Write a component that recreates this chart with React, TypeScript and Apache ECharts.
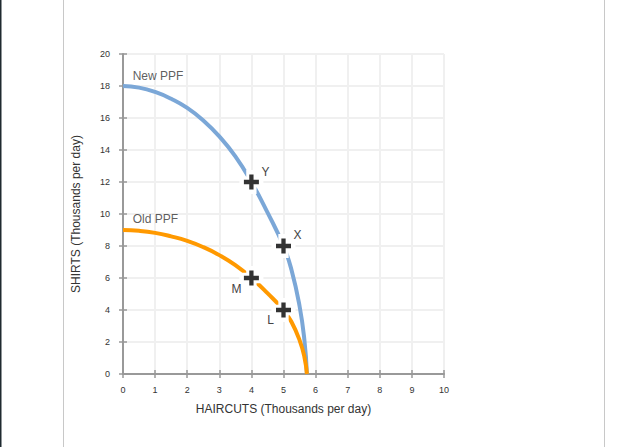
import React, { useEffect, useRef } from "react";
import * as echarts from "echarts";

const newX = [0, 0.5, 1, 1.5, 2, 2.5, 3, 3.5, 4, 4.5, 5, 5.25, 5.5, 5.65, 5.73];
const newY = [18, 17.9, 17.63, 17.2, 16.63, 15.85, 14.85, 13.6, 12, 10.1, 8, 6.5, 4.25, 2.15, 0];
const oldX = [0, 0.5, 1, 1.5, 2, 2.5, 3, 3.5, 4, 4.5, 5, 5.25, 5.5, 5.65, 5.73];
const oldY = [9, 8.95, 8.82, 8.6, 8.32, 7.93, 7.43, 6.8, 6, 5.05, 4, 3.25, 2.12, 1.08, 0];

const pointNames = ["Y", "X", "M", "L"];
const pointX = [4, 5, 4, 5];
const pointY = [12, 8, 6, 4];

const curveNames = ["New PPF", "Old PPF"];
const curveLabelX = [0.3, 0.3];
const curveLabelY = [18.6, 9.7];

const xTicks = [0, 1, 2, 3, 4, 5, 6, 7, 8, 9, 10];
const yTicks = [0, 2, 4, 6, 8, 10, 12, 14, 16, 18, 20];

const FONT = "Liberation Sans, Arial, sans-serif";
const PLUS = "path://M5,0H9V5H14V9H9V14H5V9H0V5H5Z";
const PLUS_HALO = "path://M4,0H10V4H14V10H10V14H4V10H0V4H4Z";

export default function App() {
  const ref = useRef<HTMLDivElement>(null);
  useEffect(() => {
    if (!ref.current) return;
    const chart = echarts.init(ref.current, null, { renderer: "svg" });
    const labelOffsets: Record<string, number[]> = {
      Y: [14, -10],
      X: [14, -11],
      M: [-15, 11],
      L: [-13, 10],
    };
    const pts = pointNames.map((n, i) => [pointX[i], pointY[i]]);
    chart.setOption({
      animation: false,
      backgroundColor: "#fff",
      textStyle: { fontFamily: FONT },
      graphic: [
        { type: "rect", shape: { x: 0, y: 0, width: 1.5, height: 447 }, style: { fill: "#1f2a30" } },
        { type: "line", shape: { x1: 63.5, y1: 0, x2: 63.5, y2: 447 }, style: { stroke: "#c8c8c8", lineWidth: 1 } },
        { type: "line", shape: { x1: 604.5, y1: 0, x2: 604.5, y2: 447 }, style: { stroke: "#c8c8c8", lineWidth: 1 } },
      ],
      grid: { left: 123, top: 54, width: 321, height: 320, containLabel: false },
      xAxis: [
        {
          type: "value",
          min: xTicks[0],
          max: xTicks[xTicks.length - 1],
          interval: 1,
          name: "HAIRCUTS (Thousands per day)",
          nameLocation: "middle",
          nameGap: 29,
          nameTextStyle: { fontSize: 12, color: "#333", fontFamily: FONT },
          axisLine: { show: true, lineStyle: { color: "#999", width: 2 } },
          axisTick: { show: true, length: 4, lineStyle: { color: "#999", width: 1.5 } },
          axisLabel: { fontSize: 9, color: "#333", margin: 11, fontFamily: FONT },
          splitLine: { show: true, lineStyle: { color: "#f0f0f0", width: 2 } },
        },
        {
          type: "value",
          position: "bottom",
          min: xTicks[0],
          max: xTicks[xTicks.length - 1],
          interval: 1,
          axisLine: { show: false },
          axisTick: { show: true, inside: true, length: 4, lineStyle: { color: "#999", width: 1.5 } },
          axisLabel: { show: false },
          splitLine: { show: false },
        },
      ],
      yAxis: [
        {
          type: "value",
          min: yTicks[0],
          max: yTicks[yTicks.length - 1],
          interval: 2,
          name: "SHIRTS (Thousands per day)",
          nameLocation: "middle",
          nameGap: 41,
          nameTextStyle: { fontSize: 12, color: "#333", fontFamily: FONT },
          axisLine: { show: true, lineStyle: { color: "#999", width: 2 } },
          axisTick: { show: true, length: 4, lineStyle: { color: "#999", width: 1.5 } },
          axisLabel: { fontSize: 9, color: "#333", margin: 13, fontFamily: FONT },
          splitLine: { show: true, lineStyle: { color: "#f0f0f0", width: 2 } },
        },
        {
          type: "value",
          position: "left",
          min: yTicks[0],
          max: yTicks[yTicks.length - 1],
          interval: 2,
          axisLine: { show: false },
          axisTick: { show: true, inside: true, length: 4, lineStyle: { color: "#999", width: 1.5 } },
          axisLabel: { show: false },
          splitLine: { show: false },
        },
      ],
      series: [
        {
          type: "line",
          name: "New PPF",
          data: newX.map((x, i) => [x, newY[i]]),
          smooth: 0.5,
          showSymbol: false,
          lineStyle: { color: "#7ba7d7", width: 4 },
          z: 2,
        },
        {
          type: "line",
          name: "Old PPF",
          data: oldX.map((x, i) => [x, oldY[i]]),
          smooth: 0.5,
          showSymbol: false,
          lineStyle: { color: "#ff9900", width: 4 },
          z: 3,
        },
        {
          type: "scatter",
          symbol: PLUS_HALO,
          symbolSize: 24,
          silent: true,
          itemStyle: { color: "#fff", opacity: 1 },
          z: 4,
          data: pts,
        },
        {
          type: "scatter",
          symbol: PLUS,
          symbolSize: 15,
          itemStyle: { color: "#333", opacity: 1 },
          z: 5,
          data: pointNames.map((n, i) => ({
            name: n,
            value: [pointX[i], pointY[i]],
            label: {
              show: true,
              formatter: n,
              position: "inside",
              offset: labelOffsets[n],
              color: "#444",
              fontSize: 12,
              fontFamily: FONT,
            },
          })),
        },
        {
          type: "scatter",
          symbolSize: 0,
          silent: true,
          z: 6,
          data: curveNames.map((n, i) => ({
            name: n,
            value: [curveLabelX[i], curveLabelY[i]],
            label: {
              show: true,
              formatter: n,
              position: "right",
              distance: 0,
              color: "#333",
              fontSize: 12,
              fontFamily: FONT,
            },
          })),
        },
      ],
    });
    return () => chart.dispose();
  }, []);
  return (
    <div
      ref={ref}
      style={{ position: "fixed", left: 0, top: 0, width: 635, height: 447, background: "#fff" }}
    />
  );
}
